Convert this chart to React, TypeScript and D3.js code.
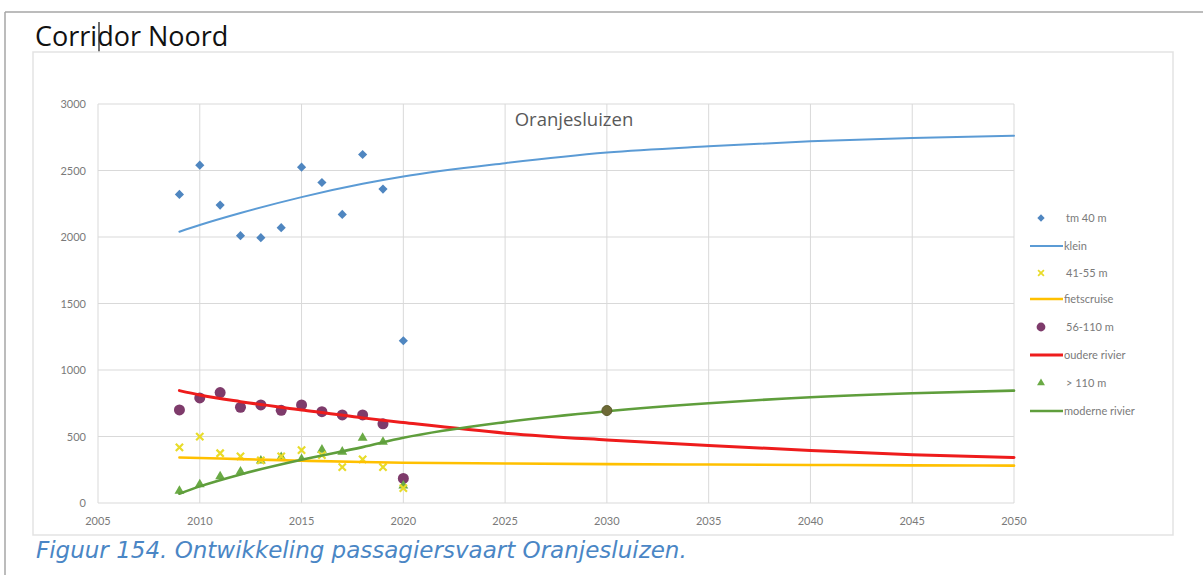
import React from 'react';
import * as d3 from 'd3';

// meetpunten per jaar
const jaren = [2009, 2010, 2011, 2012, 2013, 2014, 2015, 2016, 2017, 2018, 2019, 2020];
const tm40 = [2320, 2540, 2240, 2010, 1995, 2070, 2525, 2410, 2170, 2620, 2360, 1220];
const m41tot55 = [418, 499, 374, 350, 320, 350, 398, 360, 270, 328, 270, 112];
const m56tot110 = [700, 790, 830, 720, 737, 697, 737, 687, 662, 662, 595, 185];
const boven110 = [90, 140, 200, 236, 318, 345, 330, 400, 385, 490, 460, 130];
const prognoseJaar = 2030;
const prognoseWaarde = 695;

// trendlijnen
const lijnJaren = [2009, 2010, 2012, 2015, 2018, 2020, 2025, 2030, 2035, 2040, 2045, 2050];
const klein = [2040, 2090, 2180, 2300, 2400, 2455, 2555, 2635, 2682, 2720, 2745, 2762];
const fietscruise = [342, 338, 330, 318, 308, 303, 297, 292, 289, 286, 283, 281];
const oudereRivier = [845, 812, 762, 700, 640, 605, 525, 474, 432, 395, 362, 342];
const moderneRivier = [70, 125, 215, 325, 420, 490, 608, 690, 750, 795, 825, 845];

const xTicks = [2005, 2010, 2015, 2020, 2025, 2030, 2035, 2040, 2045, 2050];
const yTicks = [0, 500, 1000, 1500, 2000, 2500, 3000];

const legendLabels = ['tm 40 m', 'klein', '41-55 m', 'fietscruise', '56-110 m', 'oudere rivier', '> 110 m', 'moderne rivier'];

const BLAUW = '#5b9bd5';
const BLAUW_PUNT = '#4f86c0';
const GEEL_PUNT = '#e8dc2a';
const GEEL = '#ffc000';
const PAARS = '#7e3b6b';
const ROOD = '#ee1c1c';
const GROEN_PUNT = '#6aaa45';
const GROEN = '#5f9e3c';
const GRID = '#d9d9d9';
const LABEL = '#7a7a7a';

const x = d3.scaleLinear().domain([2005, 2050]).range([98, 1014]);
const y = d3.scaleLinear().domain([0, 3000]).range([503, 104]);

const lijn = d3.line<[number, number]>()
  .x((d) => x(d[0]))
  .y((d) => y(d[1]))
  .curve(d3.curveMonotoneX);

// ruit = vierkant 45 graden gedraaid
const ruit = d3.symbol(d3.symbolSquare, 42)()!;
const driehoek = d3.symbol(d3.symbolTriangle, 42)()!;
const kruis = d3.symbol(d3.symbolX, 36)()!;

function Marker({ type, cx, cy, s = 1 }: { type: string; cx: number; cy: number; s?: number }) {
  const t = `translate(${cx},${cy}) scale(${s})`;
  if (type === 'ruit') return <path d={ruit} transform={t + ' rotate(45)'} fill={BLAUW_PUNT} />;
  if (type === 'kruis') return <path d={kruis} transform={t} fill="none" stroke={GEEL_PUNT} strokeWidth={2.2} />;
  if (type === 'cirkel') return <circle cx={cx} cy={cy} r={5.5 * s} fill={PAARS} />;
  return <path d={driehoek} transform={t} fill={GROEN_PUNT} />;
}

export default function App() {
  const zip = (vals: number[]) => lijnJaren.map((j, i) => [j, vals[i]] as [number, number]);

  const lijnen = [
    { vals: klein, kleur: BLAUW, w: 2 },
    { vals: fietscruise, kleur: GEEL, w: 2.6 },
    { vals: oudereRivier, kleur: ROOD, w: 3 },
    { vals: moderneRivier, kleur: GROEN, w: 2.6 },
  ];

  const legendY = [218, 246, 273, 299, 327, 355, 383, 411];
  const legendItems = [
    { label: legendLabels[0], marker: 'ruit' },
    { label: legendLabels[1], kleur: BLAUW, w: 2 },
    { label: legendLabels[2], marker: 'kruis' },
    { label: legendLabels[3], kleur: GEEL, w: 2.6 },
    { label: legendLabels[4], marker: 'cirkel' },
    { label: legendLabels[5], kleur: ROOD, w: 3 },
    { label: legendLabels[6], marker: 'driehoek' },
    { label: legendLabels[7], kleur: GROEN, w: 2.6 },
  ];

  return (
    <svg width={1203} height={575} style={{ position: 'absolute', left: 0, top: 0, background: '#fff' }}>
      {/* paginakader */}
      <line x1={5} y1={12} x2={1203} y2={12} stroke="#a6a6a6" strokeWidth={1.5} />
      <line x1={5} y1={12} x2={5} y2={575} stroke="#a6a6a6" strokeWidth={1.5} />

      <text x={35} y={46} fontFamily="'Open Sans', Lato, sans-serif" fontSize={27} fill="#111">Corridor Noord</text>
      <line x1={99} y1={22} x2={99} y2={52} stroke="#222" strokeWidth={1.3} />

      {/* grafiekkader */}
      <rect x={33} y={52} width={1140} height={483} fill="none" stroke="#e3e3e3" strokeWidth={1.5} />

      {yTicks.map((t) => (
        <g key={'y' + t}>
          <line x1={x(2005)} x2={x(2050)} y1={y(t)} y2={y(t)} stroke={GRID} strokeWidth={1} />
          <text x={86} y={y(t) + 4} textAnchor="end" fontFamily="Lato, sans-serif" fontSize={11} fill={LABEL}>{t}</text>
        </g>
      ))}
      {xTicks.map((t) => (
        <g key={'x' + t}>
          <line x1={x(t)} x2={x(t)} y1={y(3000)} y2={y(0)} stroke={GRID} strokeWidth={1} />
          <text x={x(t)} y={525} textAnchor="middle" fontFamily="Lato, sans-serif" fontSize={11} fill={LABEL}>{t}</text>
        </g>
      ))}

      <text x={574} y={126} textAnchor="middle" fontFamily="'Open Sans', Lato, sans-serif" fontSize={18.5} fill="#595959">Oranjesluizen</text>

      {jaren.map((j, i) => <Marker key={'a' + j} type="ruit" cx={x(j)} cy={y(tm40[i])} />)}
      {jaren.map((j, i) => <Marker key={'c' + j} type="cirkel" cx={x(j)} cy={y(m56tot110[i])} />)}
      {jaren.map((j, i) => <Marker key={'d' + j} type="driehoek" cx={x(j)} cy={y(boven110[i])} />)}
      {jaren.map((j, i) => <Marker key={'b' + j} type="kruis" cx={x(j)} cy={y(m41tot55[i])} />)}

      {lijnen.map((l, i) => (
        <path key={'l' + i} d={lijn(zip(l.vals))!} fill="none" stroke={l.kleur} strokeWidth={l.w} strokeLinecap="round" />
      ))}

      <circle cx={x(prognoseJaar)} cy={y(prognoseWaarde)} r={5} fill="#6e6a36" stroke="#5a5a2a" strokeWidth={1} />

      {/* legenda */}
      {legendItems.map((it, i) => (
        <g key={'lg' + i}>
          {it.marker ? (
            <Marker type={it.marker} cx={1041} cy={legendY[i]} s={0.8} />
          ) : (
            <line x1={1030} x2={1063} y1={legendY[i]} y2={legendY[i]} stroke={it.kleur} strokeWidth={it.w} />
          )}
          <text x={it.marker ? 1066 : 1064} y={legendY[i] + 4} fontFamily="Lato, sans-serif" fontSize={11} fill={LABEL}>{it.label}</text>
        </g>
      ))}

      <text x={36} y={558} fontFamily="'DejaVu Sans', Verdana, sans-serif" fontStyle="italic" fontSize={23} fill="#4a86c5">
        Figuur 154. Ontwikkeling passagiersvaart Oranjesluizen.
      </text>
    </svg>
  );
}
